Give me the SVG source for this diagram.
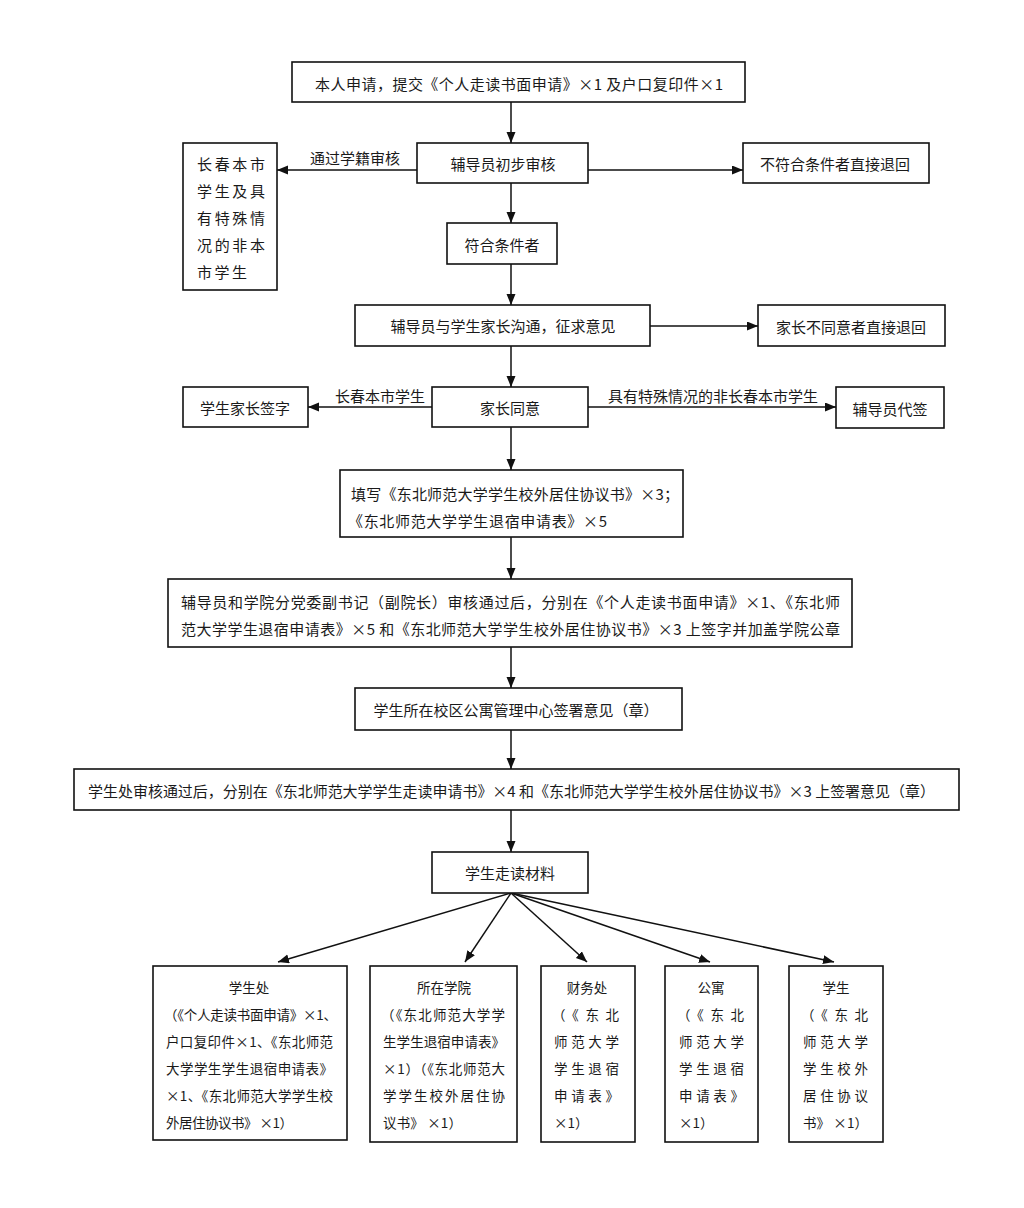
<svg xmlns="http://www.w3.org/2000/svg" width="1024" height="1208" viewBox="0 0 1024 1208">
<style>
.box{fill:#fff;stroke:#111;stroke-width:1.6}
.t{font-family:"Noto Sans CJK SC","Liberation Sans",sans-serif;font-size:15px;fill:#1a1a1a;dominant-baseline:central}
.c{text-anchor:middle}
.s{font-family:"Noto Sans CJK SC","Liberation Sans",sans-serif;font-size:13.5px;fill:#1a1a1a;dominant-baseline:central}
.ln{stroke:#111;stroke-width:1.5;fill:none;marker-end:url(#ah)}
</style>
<defs>
<marker id="ah" markerUnits="userSpaceOnUse" markerWidth="12" markerHeight="10" refX="11" refY="4.5" orient="auto">
<path d="M0,0 L11,4.5 L0,9 z" fill="#111"/>
</marker>
</defs>
<rect width="1024" height="1208" fill="#fff"/>

<g id="connectors">
<line class="ln" x1="511" y1="102" x2="511" y2="143"/>
<line class="ln" x1="417" y1="170" x2="277" y2="170"/>
<line class="ln" x1="588" y1="170" x2="743" y2="170"/>
<line class="ln" x1="511" y1="183" x2="511" y2="223"/>
<line class="ln" x1="511" y1="264" x2="511" y2="305"/>
<line class="ln" x1="650" y1="326" x2="758" y2="326"/>
<line class="ln" x1="511" y1="346" x2="511" y2="387"/>
<line class="ln" x1="432" y1="407" x2="308" y2="407"/>
<line class="ln" x1="588" y1="407" x2="836" y2="407"/>
<line class="ln" x1="511" y1="427" x2="511" y2="470"/>
<line class="ln" x1="511" y1="537" x2="511" y2="579"/>
<line class="ln" x1="511" y1="647" x2="511" y2="688"/>
<line class="ln" x1="511" y1="730" x2="511" y2="769"/>
<line class="ln" x1="511" y1="810" x2="511" y2="852"/>
<line class="ln" x1="511" y1="893" x2="278" y2="962"/>
<line class="ln" x1="511" y1="893" x2="465" y2="962"/>
<line class="ln" x1="511" y1="893" x2="587" y2="962"/>
<line class="ln" x1="511" y1="893" x2="710" y2="962"/>
<line class="ln" x1="511" y1="893" x2="834" y2="962"/>
<text class="t c" x="355" y="157">通过学籍审核</text>
<text class="t c" x="380" y="395">长春本市学生</text>
<text class="t c" x="713" y="395">具有特殊情况的非长春本市学生</text>
</g>

<g id="n1"><rect class="box" x="292" y="62" width="453" height="40"/>
<text class="t" x="315" y="83" textLength="408">本人申请，提交《个人走读书面申请》×1 及户口复印件×1</text></g>

<g id="n2"><rect class="box" x="417" y="143" width="171" height="40"/>
<text class="t c" x="503" y="163">辅导员初步审核</text></g>

<g id="n3"><rect class="box" x="183" y="143" width="94" height="147"/>
<text class="t" x="197" y="163" textLength="68">长春本市</text>
<text class="t" x="197" y="190" textLength="68">学生及具</text>
<text class="t" x="197" y="217" textLength="68">有特殊情</text>
<text class="t" x="197" y="244" textLength="68">况的非本</text>
<text class="t" x="197" y="271" textLength="50">市学生</text></g>

<g id="n4"><rect class="box" x="743" y="143" width="186" height="40"/>
<text class="t c" x="835" y="163">不符合条件者直接退回</text></g>

<g id="n5"><rect class="box" x="447" y="223" width="110" height="41"/>
<text class="t c" x="502" y="244">符合条件者</text></g>

<g id="n6"><rect class="box" x="355" y="305" width="295" height="41"/>
<text class="t c" x="503" y="325">辅导员与学生家长沟通，征求意见</text></g>

<g id="n7"><rect class="box" x="758" y="305" width="187" height="41"/>
<text class="t c" x="851" y="326">家长不同意者直接退回</text></g>

<g id="n8"><rect class="box" x="432" y="387" width="156" height="40"/>
<text class="t c" x="510" y="407">家长同意</text></g>

<g id="n9"><rect class="box" x="183" y="387" width="125" height="40"/>
<text class="t c" x="245" y="407">学生家长签字</text></g>

<g id="n10"><rect class="box" x="836" y="387" width="108" height="41"/>
<text class="t c" x="890" y="408">辅导员代签</text></g>

<g id="n11"><rect class="box" x="340" y="470" width="343" height="67"/>
<text class="t" x="351" y="493" textLength="328">填写《东北师范大学学生校外居住协议书》×3；</text>
<text class="t" x="348" y="520" textLength="259">《东北师范大学学生退宿申请表》×5</text></g>

<g id="n12"><rect class="box" x="168" y="579" width="684" height="68"/>
<text class="t" x="181" y="601" textLength="659">辅导员和学院分党委副书记（副院长）审核通过后，分别在《个人走读书面申请》×1、《东北师</text>
<text class="t" x="181" y="628" textLength="659">范大学学生退宿申请表》×5 和《东北师范大学学生校外居住协议书》×3 上签字并加盖学院公章</text></g>

<g id="n13"><rect class="box" x="355" y="688" width="327" height="42"/>
<text class="t c" x="516" y="709">学生所在校区公寓管理中心签署意见（章）</text></g>

<g id="n14"><rect class="box" x="74" y="769" width="885" height="41"/>
<text class="t" x="88" y="790" textLength="847">学生处审核通过后，分别在《东北师范大学学生走读申请书》×4 和《东北师范大学学生校外居住协议书》×3 上签署意见（章）</text></g>

<g id="n15"><rect class="box" x="432" y="852" width="156" height="41"/>
<text class="t c" x="510" y="872">学生走读材料</text></g>

<g id="n16"><rect class="box" x="153" y="966" width="194" height="174"/>
<text class="s c" x="249" y="987">学生处</text>
<text class="s" x="164" y="1014" textLength="173">（《个人走读书面申请》×1、</text>
<text class="s" x="166" y="1041" textLength="167">户口复印件×1、《东北师范</text>
<text class="s" x="166" y="1068" textLength="167">大学学生学生退宿申请表》</text>
<text class="s" x="166" y="1095" textLength="167">×1、《东北师范大学学生校</text>
<text class="s" x="166" y="1122" textLength="127">外居住协议书》 ×1）</text></g>

<g id="n17"><rect class="box" x="370" y="966" width="147" height="176"/>
<text class="s c" x="444" y="987">所在学院</text>
<text class="s" x="381" y="1014" textLength="124">（《东北师范大学学</text>
<text class="s" x="383" y="1041" textLength="122">生学生退宿申请表》</text>
<text class="s" x="383" y="1068" textLength="122">×1）（《东北师范大</text>
<text class="s" x="383" y="1095" textLength="122">学学生校外居住协</text>
<text class="s" x="383" y="1122" textLength="79">议书》 ×1）</text></g>

<g id="n18"><rect class="box" x="541" y="966" width="94" height="176"/>
<text class="s c" x="587" y="987">财务处</text>
<text class="s" x="552" y="1014" textLength="67">（《东北</text>
<text class="s" x="554" y="1041" textLength="65">师范大学</text>
<text class="s" x="554" y="1068" textLength="65">学生退宿</text>
<text class="s" x="554" y="1095" textLength="65">申请表》</text>
<text class="s" x="554" y="1122">×1）</text></g>

<g id="n19"><rect class="box" x="665" y="966" width="93" height="176"/>
<text class="s c" x="711" y="987">公寓</text>
<text class="s" x="677" y="1014" textLength="67">（《东北</text>
<text class="s" x="679" y="1041" textLength="65">师范大学</text>
<text class="s" x="679" y="1068" textLength="65">学生退宿</text>
<text class="s" x="679" y="1095" textLength="65">申请表》</text>
<text class="s" x="679" y="1122">×1）</text></g>

<g id="n20"><rect class="box" x="789" y="966" width="94" height="176"/>
<text class="s c" x="836" y="987">学生</text>
<text class="s" x="801" y="1014" textLength="67">（《东北</text>
<text class="s" x="803" y="1041" textLength="65">师范大学</text>
<text class="s" x="803" y="1068" textLength="65">学生校外</text>
<text class="s" x="803" y="1095" textLength="65">居住协议</text>
<text class="s" x="803" y="1122" textLength="65">书》 ×1）</text></g>
</svg>
